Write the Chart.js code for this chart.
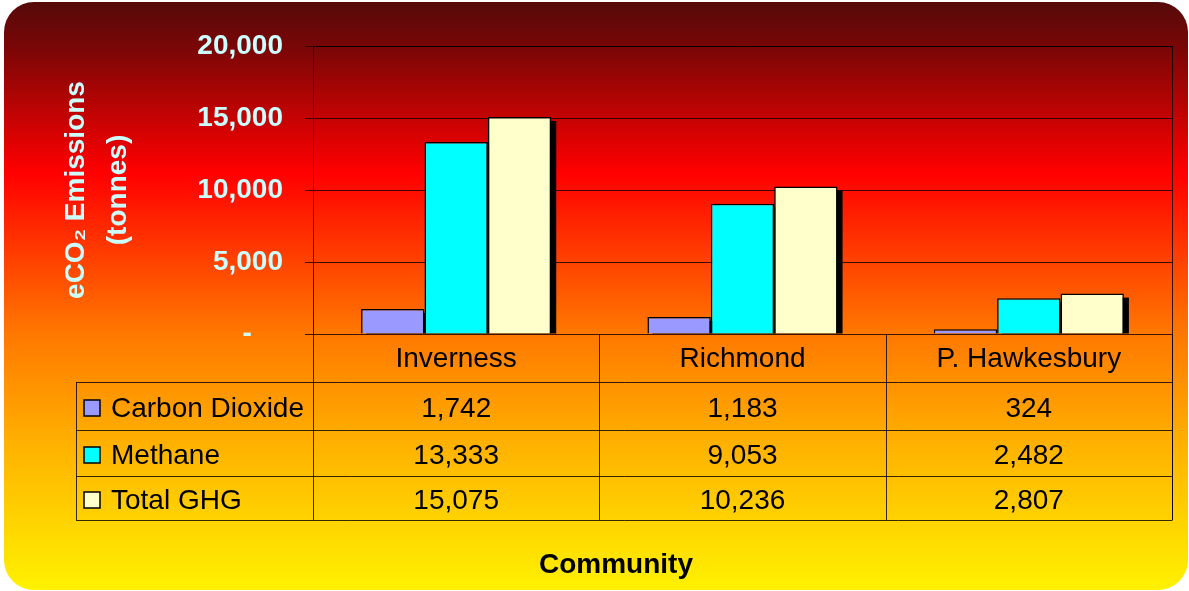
<!DOCTYPE html>
<html>
<head>
<meta charset="utf-8">
<script src="https://cdn.jsdelivr.net/npm/chart.js@4/dist/chart.umd.min.js"></script>
<style>
  body { margin: 0; background: #ffffff; }
  #wrap { width: 1189px; height: 591px; }
</style>
</head>
<body>
<div id="wrap"><canvas id="chart" width="1189" height="591"></canvas></div>
<script>
// data
const communities = ["Inverness", "Richmond", "P. Hawkesbury"];
const seriesNames = ["Carbon Dioxide", "Methane", "Total GHG"];
const carbonDioxide = [1742, 1183, 324];
const methane = [13333, 9053, 2482];
const totalGHG = [15075, 10236, 2807];
const seriesColors = ["#9999ff", "#00ffff", "#ffffcc"];
const yMax = 20000;
const yStep = 5000;

const FONT = "'Liberation Sans', Arial, sans-serif";

// rounded gradient background behind everything
const background = {
  id: "background",
  beforeDraw: (chart) => {
    const { ctx } = chart;
    const w = chart.width, h = chart.height;
    ctx.save();
    let g = ctx.createLinearGradient(0, 2, 0, h);
    g.addColorStop(0, "#550a0a");
    g.addColorStop(0.08, "#7c0606");
    g.addColorStop(0.29, "#ff0000");
    g.addColorStop(0.56, "#ff7700");
    g.addColorStop(0.76, "#ffb400");
    g.addColorStop(1, "#fff200");
    ctx.fillStyle = g;
    ctx.beginPath();
    ctx.roundRect(4, 2, w - 5, h - 3, 30);
    ctx.fill();
    ctx.restore();
  },
};

// black drop shadow to the right of the bars
const barShadow = {
  id: "barShadow",
  beforeDatasetsDraw: (chart) => {
    const { ctx } = chart;
    ctx.save();
    ctx.fillStyle = "#000";
    chart.data.datasets.forEach((ds, i) => {
      chart.getDatasetMeta(i).data.forEach((bar) => {
        let top = bar.y + 4;
        if (bar.base - top > 0) {
          ctx.fillRect(bar.x - bar.width / 2 + 5, top, bar.width, bar.base - top);
        }
      });
    });
    ctx.restore();
  },
};

// data table under the plot + frame lines
const dataTable = {
  id: "dataTable",
  afterDraw: (chart) => {
    const { ctx, chartArea } = chart;
    const x = chart.scales.x;
    const colW = (chartArea.right - chartArea.left) / communities.length;
    const rows = [chartArea.bottom, 382, 430, 476, 520];
    const tableLeft = 76;
    const rowValues = [carbonDioxide, methane, totalGHG];

    ctx.save();
    ctx.strokeStyle = "rgba(0,0,0,0.8)";
    ctx.lineWidth = 1;
    ctx.beginPath();
    // right frame of the plot
    ctx.moveTo(chartArea.right + 0.5, chartArea.top);
    ctx.lineTo(chartArea.right + 0.5, rows[4]);
    // top frame
    ctx.moveTo(chartArea.left, chartArea.top + 0.5);
    ctx.lineTo(chartArea.right + 0.5, chartArea.top + 0.5);
    // column lines
    for (let i = 0; i <= communities.length; i++) {
      let cx = Math.round(chartArea.left + i * colW) + 0.5;
      ctx.moveTo(cx, rows[0]);
      ctx.lineTo(cx, rows[4]);
    }
    // row lines
    for (let r = 1; r < rows.length; r++) {
      ctx.moveTo(tableLeft, rows[r] + 0.5);
      ctx.lineTo(chartArea.right + 0.5, rows[r] + 0.5);
    }
    ctx.moveTo(tableLeft + 0.5, rows[1]);
    ctx.lineTo(tableLeft + 0.5, rows[4]);
    ctx.stroke();

    ctx.fillStyle = "#000";
    ctx.font = "28px " + FONT;
    ctx.textAlign = "center";
    ctx.textBaseline = "middle";
    communities.forEach((c, i) => {
      ctx.fillText(c, x.getPixelForValue(i), (rows[0] + rows[1]) / 2 + 1);
    });
    for (let r = 0; r < 3; r++) {
      let cy = (rows[r + 1] + rows[r + 2]) / 2 + 3;
      // legend key
      ctx.fillStyle = seriesColors[r];
      ctx.fillRect(84, cy - 9, 16, 16);
      ctx.strokeStyle = "#000";
      ctx.lineWidth = 1.5;
      ctx.strokeRect(84, cy - 9, 16, 16);
      ctx.fillStyle = "#000";
      ctx.textAlign = "left";
      ctx.fillText(seriesNames[r], 111, cy);
      ctx.textAlign = "center";
      rowValues[r].forEach((v, i) => {
        ctx.fillText(v.toLocaleString("en-US"), x.getPixelForValue(i), cy);
      });
    }

    ctx.font = "bold 28px " + FONT;
    ctx.fillText("Community", 616, 565);
    ctx.restore();
  },
};

const ctx = document.getElementById("chart");
const myChart = new Chart(ctx, {
  type: "bar",
  data: {
    labels: communities,
    datasets: [
      { label: seriesNames[0], data: carbonDioxide, backgroundColor: seriesColors[0] },
      { label: seriesNames[1], data: methane, backgroundColor: seriesColors[1] },
      { label: seriesNames[2], data: totalGHG, backgroundColor: seriesColors[2] },
    ],
  },
  options: {
    responsive: false,
    animation: false,
    devicePixelRatio: 1,
    layout: { padding: { left: 0, right: 17, top: 46, bottom: 257 } },
    datasets: {
      bar: {
        borderColor: "#000",
        borderWidth: 1.5,
        categoryPercentage: 0.664,
        barPercentage: 1,
      },
    },
    scales: {
      x: { display: false },
      y: {
        min: 0,
        max: yMax,
        afterFit: (scale) => { scale.width = 313; },
        ticks: {
          stepSize: yStep,
          padding: 22,
          color: "#ccffff",
          font: { family: FONT, size: 28, weight: "bold" },
          callback: (v) => (v === 0 ? "-    " : v.toLocaleString("en-US")),
        },
        grid: {
          color: "rgba(30,0,0,0.85)",
          lineWidth: 1,
          tickLength: 8,
        },
        border: { color: "#000", width: 1 },
        title: {
          display: true,
          text: ["eCO\u2082 Emissions", "(tonnes)"],
          color: "#ccffff",
          font: { family: FONT, size: 28, weight: "bold", lineHeight: 1.5 },
          padding: { top: 55, bottom: 0 },
        },
      },
    },
    plugins: {
      legend: { display: false },
      tooltip: { enabled: false },
    },
  },
  plugins: [background, barShadow, dataTable],
});
</script>
</body>
</html>
